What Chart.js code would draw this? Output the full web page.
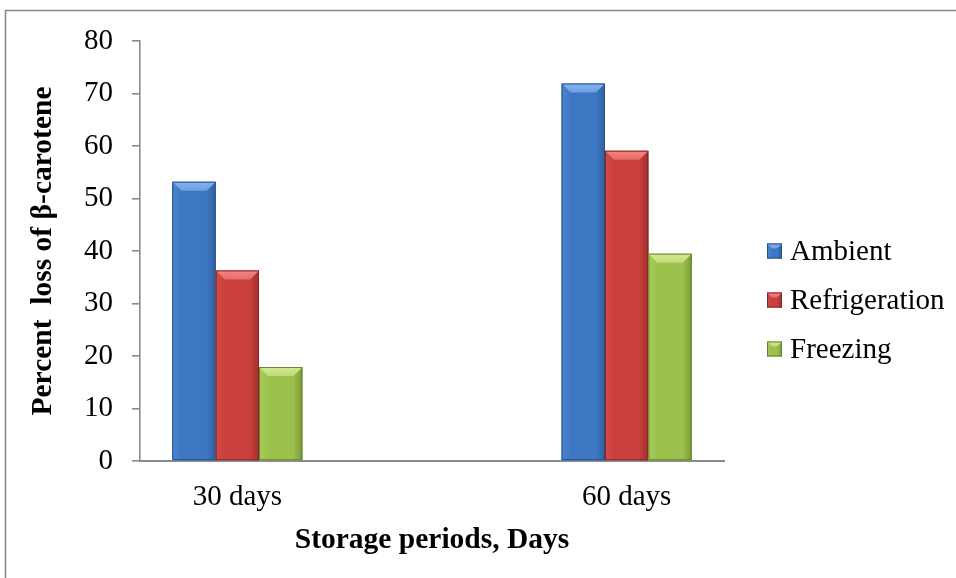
<!DOCTYPE html>
<html>
<head>
<meta charset="utf-8">
<script src="https://cdn.jsdelivr.net/npm/chart.js@4.4.1/dist/chart.umd.min.js"></script>
<style>
  html, body { margin: 0; padding: 0; background: #ffffff; }
  #wrap { width: 956px; height: 578px; position: relative; }
</style>
</head>
<body>
<div id="wrap"><canvas id="c" width="956" height="578"></canvas></div>
<script>
// Storage periods and percent loss of beta-carotene per storage condition
const periods = ['30 days', '60 days'];
const seriesNames = ['Ambient', 'Refrigeration', 'Freezing'];
const ambient = [53.2, 71.9];
const refrigeration = [36.3, 59.1];
const freezing = [17.9, 39.5];
const yTicks = [0, 10, 20, 30, 40, 50, 60, 70, 80];
const yTitle = 'Percent  loss of \u03b2-carotene';
const xTitle = 'Storage periods, Days';

// Bevelled fill tones: body, top facet, left facet, right facet, outline
const palette = [
  { body: '#3d77c4', top: '#86b5f0', topLow: '#6a9fe3', left: '#4d86d0', right: '#30609f', edge: '#27508a' },
  { body: '#c9403d', top: '#f48784', topLow: '#e66c69', left: '#d24d4a', right: '#a02f2d', edge: '#862725' },
  { body: '#9cc14c', top: '#d4ea94', topLow: '#bedc76', left: '#a7ca5a', right: '#7b9a38', edge: '#66822b' }
];

const serif = 'Liberation Serif, Times New Roman, serif';

// The category axis keeps an empty slot between the two periods
const axisLabels = [periods[0], '', periods[1]];
const spread = vals => [vals[0], null, vals[1]];
const seriesValues = [ambient, refrigeration, freezing];

const datasets = seriesNames.map((name, i) => ({
  label: name,
  data: spread(seriesValues[i]),
  backgroundColor: palette[i].body,
  borderWidth: 0,
  barPercentage: 1,
  categoryPercentage: 0.668
}));

// Gray frame around the figure
const frame = {
  id: 'frame',
  beforeDraw(chart) {
    const ctx = chart.ctx;
    ctx.save();
    ctx.strokeStyle = '#8a8a8a';
    ctx.lineWidth = 1.6;
    ctx.beginPath();
    ctx.moveTo(5.5, 600);
    ctx.lineTo(5.5, 10.5);
    ctx.lineTo(970, 10.5);
    ctx.stroke();
    ctx.restore();
  }
};

function facetPaths(ctx, l, r, t, b, k, s, tone) {
  // left facet
  const gl = ctx.createLinearGradient(l, 0, l + s, 0);
  gl.addColorStop(0, tone.left);
  gl.addColorStop(1, tone.body);
  ctx.fillStyle = gl;
  ctx.beginPath();
  ctx.moveTo(l, t); ctx.lineTo(l + s, t + k); ctx.lineTo(l + s, b); ctx.lineTo(l, b);
  ctx.closePath(); ctx.fill();
  // right facet
  const gr = ctx.createLinearGradient(r - s, 0, r, 0);
  gr.addColorStop(0, tone.body);
  gr.addColorStop(1, tone.right);
  ctx.fillStyle = gr;
  ctx.beginPath();
  ctx.moveTo(r, t); ctx.lineTo(r - s, t + k); ctx.lineTo(r - s, b); ctx.lineTo(r, b);
  ctx.closePath(); ctx.fill();
  // top facet
  const g = ctx.createLinearGradient(0, t, 0, t + k);
  g.addColorStop(0, tone.top);
  g.addColorStop(1, tone.topLow);
  ctx.fillStyle = g;
  ctx.beginPath();
  ctx.moveTo(l, t); ctx.lineTo(r, t); ctx.lineTo(r - s, t + k); ctx.lineTo(l + s, t + k);
  ctx.closePath(); ctx.fill();
  // outline
  ctx.strokeStyle = tone.edge;
  ctx.lineWidth = 1;
  ctx.strokeRect(l + 0.5, t + 0.5, r - l - 1, b - t - 1);
}

// Bevel shading laid over each bar element
const bevel = {
  id: 'bevel',
  afterDatasetsDraw(chart) {
    const ctx = chart.ctx;
    ctx.save();
    chart.data.datasets.forEach((ds, i) => {
      const meta = chart.getDatasetMeta(i);
      const tone = palette[i];
      meta.data.forEach((bar, j) => {
        if (ds.data[j] == null) return;
        const p = bar.getProps(['x', 'y', 'base', 'width'], true);
        const l = p.x - p.width / 2, r = p.x + p.width / 2;
        const t = Math.min(p.y, p.base), b = Math.max(p.y, p.base);
        const k = Math.min(9, (b - t) / 2);
        facetPaths(ctx, l, r, t, b, k, 9, tone);
      });
    });
    ctx.restore();
  }
};

// Legend at the right of the plot
const sideLegend = {
  id: 'sideLegend',
  afterDraw(chart) {
    const ctx = chart.ctx;
    const area = chart.chartArea;
    const x0 = area.right + 43;
    const yMid = (area.top + area.bottom) / 2 + 49;
    ctx.save();
    chart.data.datasets.forEach((ds, i) => {
      const cy = yMid + (i - 1) * 49;
      const sz = 15;
      const l = x0, t = cy - sz / 2;
      ctx.fillStyle = palette[i].body;
      ctx.fillRect(l, t, sz, sz);
      facetPaths(ctx, l, l + sz, t, t + sz, 5, 5, palette[i]);
      ctx.fillStyle = '#000000';
      ctx.font = '29px ' + serif;
      ctx.textBaseline = 'middle';
      ctx.textAlign = 'left';
      ctx.fillText(ds.label, x0 + 23, cy + 1);
    });
    ctx.restore();
  }
};

new Chart(document.getElementById('c'), {
  type: 'bar',
  data: { labels: axisLabels, datasets },
  plugins: [frame, bevel, sideLegend],
  options: {
    responsive: false,
    animation: false,
    devicePixelRatio: 1,
    layout: { padding: { left: 5, top: 41, right: 232, bottom: 0 } },
    plugins: {
      legend: { display: false },
      tooltip: { enabled: false }
    },
    scales: {
      x: {
        afterFit: s => { s.height = 117; },
        grid: { display: false, drawTicks: false },
        border: { display: true, color: '#8a8a8a', width: 2 },
        ticks: {
          color: '#000000',
          padding: 19,
          font: { family: serif, size: 29, lineHeight: 1.2 }
        },
        title: {
          display: true,
          text: xTitle,
          color: '#000000',
          padding: { top: 0, bottom: 20 },
          font: { family: serif, size: 29.5, weight: 'bold', lineHeight: 1.2 }
        }
      },
      y: {
        min: 0,
        max: 80,
        afterFit: s => { s.width = 135; },
        afterBuildTicks: s => { s.ticks = yTicks.map(v => ({ value: v })); },
        grid: { drawOnChartArea: false, drawTicks: true, tickLength: 8, color: '#8a8a8a', lineWidth: 1.6 },
        border: { display: true, color: '#8a8a8a', width: 1.6 },
        ticks: {
          color: '#000000',
          padding: 19,
          font: { family: serif, size: 29, lineHeight: 1.2 }
        },
        title: {
          display: true,
          text: yTitle,
          color: '#000000',
          padding: { top: 21, bottom: 0 },
          font: { family: serif, size: 29.5, weight: 'bold', lineHeight: 1.2 }
        }
      }
    }
  }
});
</script>
</body>
</html>
